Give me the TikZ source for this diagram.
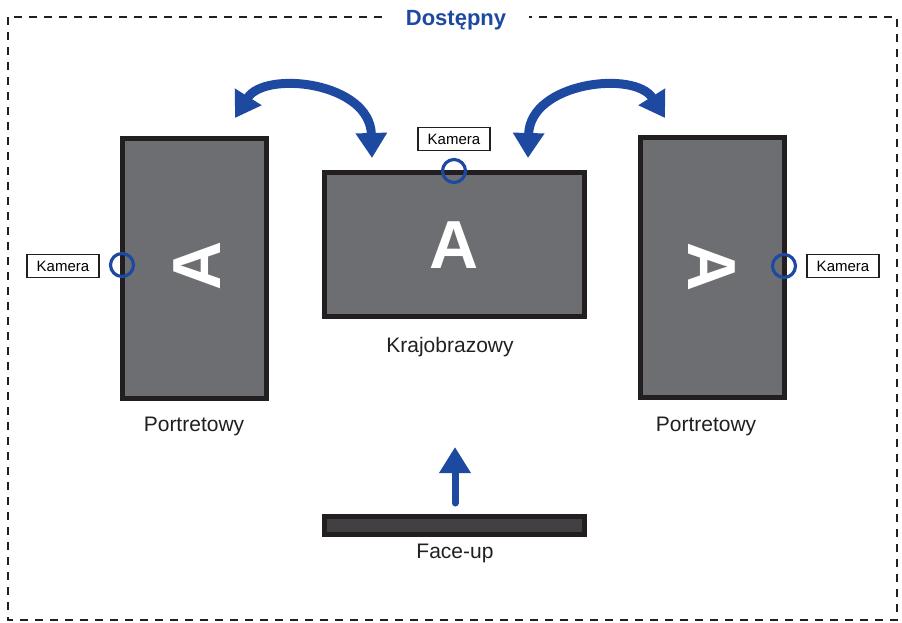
\documentclass[tikz,border=0pt]{standalone}
\usepackage{fontspec}
\setmainfont{Liberation Sans}
\usetikzlibrary{arrows.meta}
\definecolor{screen}{RGB}{109,110,113}
\definecolor{bezel}{RGB}{35,31,32}
\definecolor{flatscreen}{RGB}{65,64,66}
\definecolor{turnblue}{RGB}{29,74,160}

\begin{document}
\begin{tikzpicture}[x=1pt,y=-1pt,
  monitor/.style={draw=bezel,fill=screen,line width=5pt,inner sep=0pt},
  portrait/.style={monitor,minimum width=144pt,minimum height=260pt},
  landscape/.style={monitor,minimum width=260pt,minimum height=144pt},
  letter/.style={text=white,font=\fontsize{68}{68}\selectfont\bfseries,inner sep=0pt},
  cam/.style={circle,draw=turnblue,line width=3.2pt,minimum size=23pt,inner sep=0pt},
  camlabel/.style={draw=bezel,fill=white,line width=1.6pt,minimum width=72pt,minimum height=23pt,inner sep=0pt,font=\fontsize{15}{15}\selectfont},
  caption/.style={anchor=base,font=\fontsize{21}{21}\selectfont,text=bezel},
  turn/.style={draw=turnblue,line width=9pt,{Triangle[length=25pt,width=30pt]}-{Triangle[length=25pt,width=30pt]}}]
\useasboundingbox (0,0) rectangle (902,622);
\draw[bezel,line width=1.8pt,dash pattern=on 8pt off 7pt] (8,17) rectangle (897,620);
\node[anchor=base,fill=white,text=turnblue,font=\fontsize{22}{22}\selectfont\bfseries,minimum width=145pt,inner sep=2pt] (title) at (456,25) {Dostępny};

% the three positions
\node[portrait] (lscreen) at (194,268) {};
\node[landscape] (cscreen) at (454,244) {};
\node[portrait] (rscreen) at (712,267) {};
\node[letter,rotate=90] (la) at (197,266) {A};
\node[letter] (ca) at (454,245) {A};
\node[letter,rotate=-90] (ra) at (712,267) {A};

\node[cam] (lcam) at (122,265) {};
\node[cam] (ccam) at (454,171) {};
\node[cam] (rcam) at (784,266) {};
\node[camlabel] (lcaml) at (63,266) {Kamera};
\node[camlabel] (ccaml) at (454,139) {Kamera};
\node[camlabel] (rcaml) at (843,266) {Kamera};

\node[caption] (lcap) at (194,431) {Portretowy};
\node[caption] (ccap) at (450,352) {Krajobrazowy};
\node[caption] (rcap) at (706,431) {Portretowy};

% face-up
\node[draw=bezel,fill=flatscreen,line width=5pt,minimum width=260pt,minimum height=18pt,inner sep=0pt] (flat) at (454.5,525.5) {};
\node[caption] (fcap) at (455,558) {Face-up};
\coordinate (upfoot) at (455,503);
\coordinate (uptip) at (455,447);
\draw[turnblue,line width=7pt,line cap=round,-{Triangle[length=26pt,width=30pt]}] (upfoot) -- (uptip);

% rotation arrows
\coordinate (lt1) at (235,118);
\coordinate (lt2) at (372,158);
\coordinate (rt1) at (528,158);
\coordinate (rt2) at (665,118);
\draw[turn] (lt1) .. controls (265,70) and (370,82) .. (lt2);
\draw[turn] (rt1) .. controls (530,82) and (635,70) .. (rt2);
\end{tikzpicture}
\end{document}
